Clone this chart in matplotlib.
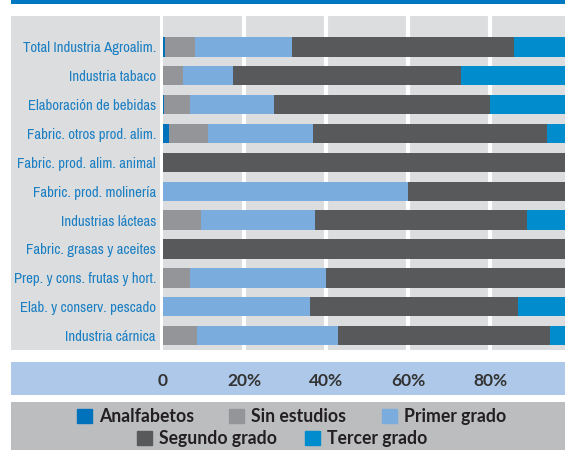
import matplotlib
matplotlib.use("Agg")
import matplotlib.pyplot as plt
from matplotlib.patches import Rectangle, Patch
from matplotlib import font_manager as fm

categories = ["Total Industria Agroalim.", "Industria tabaco", "Elaboración de bebidas",
              "Fabric. otros prod. alim.", "Fabric. prod. alim. animal", "Fabric. prod. molinería",
              "Industrias lácteas", "Fabric. grasas y aceites", "Prep. y cons. frutas y hort.",
              "Elab. y conserv. pescado", "Industria cárnica"]
analfabetos = [0.7, 0, 0.3, 1.7, 0, 0, 0, 0, 0, 0, 0]
sin_estudios = [7.3, 4.9, 6.3, 9.3, 0, 0, 9.3, 0, 6.8, 0, 8.3]
primer_grado = [23.7, 12.2, 20.5, 25.8, 0, 60.0, 27.8, 0, 33.2, 35.9, 34.6]
segundo_grado = [54.0, 55.8, 52.9, 56.9, 100, 40.0, 51.7, 100, 60.0, 50.9, 51.5]
tercer_grado = [14.3, 27.1, 20.0, 6.3, 0, 0, 11.2, 0, 0, 13.2, 5.6]
series_names = ["Analfabetos", "Sin estudios", "Primer grado", "Segundo grado", "Tercer grado"]
colors = ["#0072bc", "#939598", "#7aacdd", "#58595b", "#008ccd"]
xticks = [0, 20, 40, 60, 80]
xticklabels = ["0", "20%", "40%", "60%", "80%"]

# condensed face for the category labels if one is installed
ttf = fm.fontManager.ttflist
narrow = sorted({f.name for f in ttf if "Narrow" in f.name or "Condensed" in f.name})
if narrow:
    label_font = dict(family=narrow[0])
elif any(f.name == "DejaVu Sans" and f.stretch == "condensed" for f in ttf):
    label_font = dict(family="DejaVu Sans", stretch="condensed")
else:
    label_font = dict(family="Roboto")
avail = {f.name for f in ttf}
bold_font = "Lato" if "Lato" in avail else "DejaVu Sans"

W, H = 565, 450
fig = plt.figure(figsize=(W / 100, H / 100), dpi=100)


def box(x0, y0, x1, y1, color):
    # pixel coords from the top-left corner
    fig.add_artist(Rectangle((x0 / W, 1 - y1 / H), (x1 - x0) / W, (y1 - y0) / H,
                             transform=fig.transFigure, color=color, lw=0, zorder=0))


box(10.5, 0, W, 4.3, "#0078c1")
box(10.8, 16, 159.6, 350, "#dcdddf")
box(10.8, 361.5, W, 394.6, "#adc8e8")
box(10.8, 401.8, W, H, "#bcbdbf")

x0px, scale = 162.5, 4.1
ax = fig.add_axes([x0px / W, 1 - 350 / H, (W - x0px) / W, (350 - 16) / H])
ax.set_facecolor("#dcdddf")
for s in ax.spines.values():
    s.set_visible(False)

ypos = list(range(len(categories)))
left = [0] * len(categories)
for vals, name, c in zip([analfabetos, sin_estudios, primer_grado, segundo_grado, tercer_grado],
                         series_names, colors):
    ax.barh(ypos, vals, left=left, height=0.67, color=c, lw=0, zorder=2, label=name)
    left = [a + b for a, b in zip(left, vals)]

for g in xticks[1:]:
    ax.axvline(g, color="white", lw=3, zorder=1)

ax.set_xlim(0, (W - x0px) / scale)
ax.set_ylim(10.5, -1.07)
ax.set_yticks(ypos)
ylabs = ax.set_yticklabels(categories, color="#1b7fc3", fontsize=12, **label_font)
ax.set_xticks(xticks)
ax.set_xticklabels(xticklabels, color="#333333", fontsize=12.5, fontweight="bold", family=bold_font)
ax.tick_params(left=False, bottom=False, length=0)
ax.tick_params(axis="y", pad=4.7)
ax.tick_params(axis="x", pad=16.5)

# shrink the labels so the longest one fits the left panel
r = fig.canvas.get_renderer()
widest = max(t.get_window_extent(r).width for t in ylabs)
size = min(12, 12 * 142 / widest)
for t in ylabs:
    t.set_fontsize(size)

handles = [Patch(color=c, label=n) for c, n in zip(colors, series_names)]
leg_kw = dict(frameon=False, prop=dict(family=bold_font, weight="bold", size=12.7),
              handlelength=0.85, handleheight=0.85, handletextpad=0.4,
              borderpad=0, labelcolor="#231f20")
fig.legend(handles=handles[:3], ncol=3, loc="center", bbox_to_anchor=(291.5 / W, 1 - 416.7 / H),
           columnspacing=2.0, **leg_kw)
fig.legend(handles=handles[3:], ncol=2, loc="center", bbox_to_anchor=(282 / W, 1 - 438.7 / H),
           columnspacing=1.6, **leg_kw)

fig.savefig("out.png", dpi=100)
